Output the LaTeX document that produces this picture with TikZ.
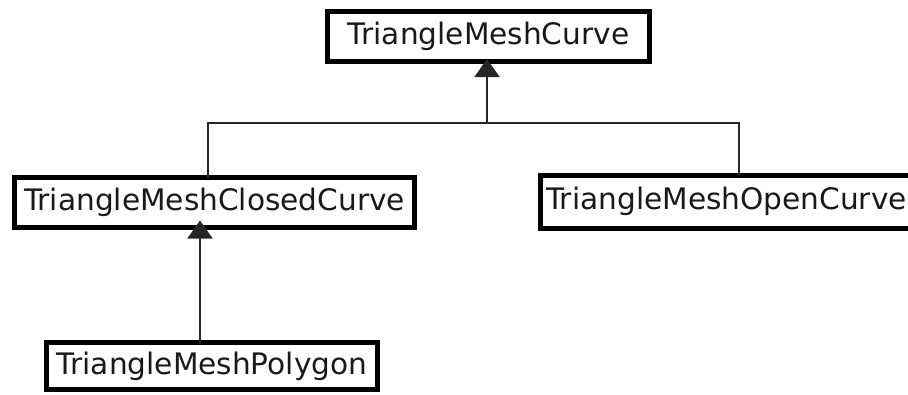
\documentclass[tikz,border=0pt]{standalone}
\usepackage{fontspec}
\setmainfont{DejaVu Sans}
\usetikzlibrary{arrows.meta}
\begin{document}
\begin{tikzpicture}[x=1pt,y=-1pt,
  lbl/.style={font=\fontsize{29.6}{34}\selectfont,text=black!90},
  cls/.style={lbl,draw=black,line width=5pt,fill=white,inner sep=0pt,outer sep=0pt},
  frame/.style={draw=black,line width=5pt,fill=white},
  conn/.style={draw=black!85,line width=2pt},
  inh/.style={conn,-{Triangle[length=18pt,width=25pt]}}]
\useasboundingbox (0,0) rectangle (908,394);
\node[cls,minimum width=322pt,minimum height=50pt] (top) at (488.5,36.5) {TriangleMeshCurve};
\node[cls,minimum width=400pt,minimum height=50pt] (closed) at (214.5,202.5) {TriangleMeshClosedCurve};
\coordinate (openNW) at (540,175);
\coordinate (openSE) at (920,228);
\draw[frame] (openNW) rectangle (openSE);
\node[lbl,inner sep=0pt] (open) at (726.5,201.5) {TriangleMeshOpenCurve};
\node[cls,minimum width=331pt,minimum height=47pt] (poly) at (212,366) {TriangleMeshPolygon};
\coordinate (jm) at (487,123);
\coordinate (jl) at (208,123);
\coordinate (jr) at (739,123);
\coordinate (pa) at (200,300);
\draw[conn] (closed.north -| jl) -- (jl) -- (jr) -- (openNW -| jr);
\draw[inh,shorten >=-2.5pt] (jm) -- (top.south -| jm);
\draw[inh,shorten >=-7pt] (poly.north -| pa) -- (closed.south -| pa);
\end{tikzpicture}
\end{document}
